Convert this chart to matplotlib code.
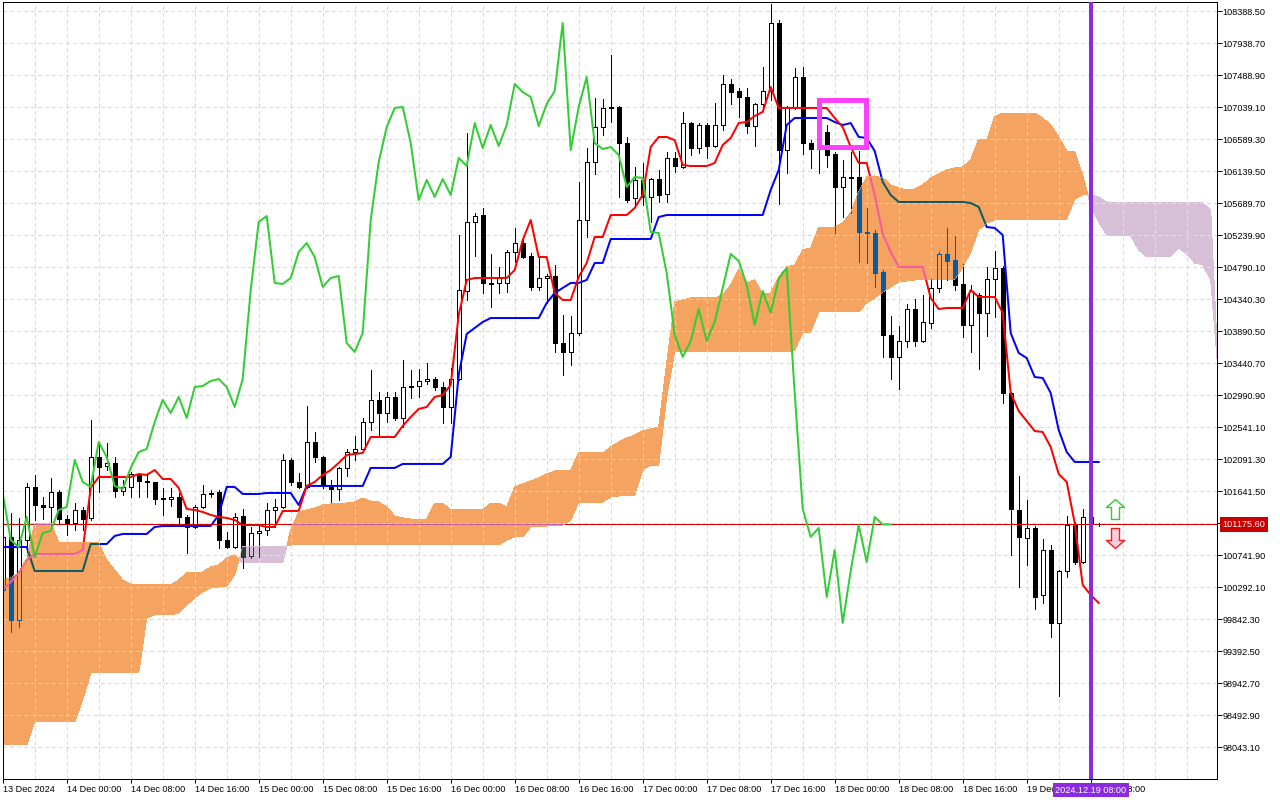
import numpy as np
import matplotlib
matplotlib.use('Agg')
from matplotlib import pyplot as plt
from matplotlib.path import Path
from matplotlib.collections import LineCollection, PolyCollection
from matplotlib.patches import Rectangle
from matplotlib.transforms import blended_transform_factory

plt.rcParams['font.family'] = ['Liberation Sans', 'DejaVu Sans']
plt.rcParams['lines.scale_dashes'] = False

PX = 0.72  # one screen pixel in points at 100 dpi
FS = 6.6

# H1 bars, 13 Dec 2024 16:00 .. 19 Dec 2024 09:00
open_ = [100255, 101000, 99833, 100957, 101703, 101449, 101421, 101632, 101252, 101196,
         101379, 101267, 102124, 101998, 102040, 101646, 101703, 101871, 101787, 101773,
         101533, 101533, 101562, 101281, 101140, 101421, 101604, 101632, 100957, 100859,
         101295, 100733, 101056, 101098, 101379, 101421, 102082, 101773, 101703, 102335,
         102124, 101717, 101674, 101970, 102194, 102236, 102616, 102925, 102742, 102968,
         102672, 103108, 103122, 103192, 103220, 103108, 102827, 103220, 104457, 105427,
         105525, 104570, 104570, 104570, 105005, 105132, 104949, 104514, 104640, 104668,
         103726, 103600, 103867, 105455, 106270, 106762, 107030, 107044, 106537, 105764,
         106017, 105779, 106031, 105821, 106327, 106200, 106818, 106467, 106790, 106495,
         106790, 107367, 107268, 107184, 106776, 107086, 107268, 108224, 106439, 107044,
         107465, 106537, 106509, 106692, 106383, 105919, 106060, 106060, 105286, 105272,
         104724, 103839, 103530, 103754, 104204, 103754, 104007, 104499, 104977, 104893,
         104556, 103979, 104401, 104148, 104626, 104780, 103024, 101379, 100985, 101126,
         100185, 100817, 99791, 100522, 101168, 100648, 101281, 101175.6]
high = [101098, 101337, 101267, 101759, 101871, 101562, 101829, 101660, 101309, 101477,
        101421, 102644, 102321, 102321, 102124, 101801, 101913, 101899, 101899, 101773,
        101689, 101689, 101618, 101309, 101449, 101731, 101660, 101660, 101070, 101337,
        101393, 101140, 101182, 101477, 101533, 102166, 102110, 101899, 102841, 102475,
        102138, 101801, 101984, 102236, 102419, 102672, 103347, 103038, 103038, 103038,
        103487, 103347, 103361, 103445, 103248, 103178, 103375, 105244, 106678, 105553,
        105624, 104977, 104795, 105033, 105343, 105216, 104991, 104935, 104696, 104823,
        104120, 104106, 105989, 106467, 107170, 107156, 107774, 107058, 106622, 106200,
        106256, 106046, 106158, 106411, 106411, 106973, 106832, 106818, 106818, 107100,
        107493, 107436, 107311, 107311, 107100, 107606, 108491, 108266, 107058, 107592,
        107606, 106579, 107001, 106790, 106411, 106298, 106411, 106425, 105624, 105314,
        104752, 104106, 103965, 104275, 104345, 104401, 104626, 105005, 105343, 105230,
        104837, 104542, 104429, 104795, 105019, 104809, 103038, 101857, 101519, 101154,
        100971, 100887, 100536, 101295, 101210, 101393, 101379, 101190]
low = [100114, 99664, 99735, 100747, 101238, 101252, 101168, 101196, 101028, 101098,
       101098, 101238, 101632, 101941, 101562, 101590, 101562, 101562, 101562, 101463,
       101309, 101435, 101182, 100775, 101126, 101407, 101562, 100845, 100845, 100845,
       100564, 100705, 100719, 101028, 101140, 101407, 101731, 101689, 101689, 102054,
       101689, 101477, 101519, 101857, 102082, 102194, 102503, 102433, 102616, 102644,
       102546, 102954, 102968, 103150, 103066, 102602, 102602, 103206, 104331, 104949,
       104429, 104233, 104429, 104443, 104865, 104921, 104471, 104471, 104289, 103600,
       103277, 103417, 103839, 105216, 106102, 106650, 106832, 105779, 105708, 105638,
       105666, 105427, 105708, 105708, 106130, 106186, 106369, 106397, 106327, 106481,
       106720, 107086, 106903, 106678, 106495, 107001, 107142, 105680, 106116, 107015,
       106383, 106186, 106116, 106200, 105272, 105497, 105553, 104865, 104851, 104514,
       103530, 103220, 103080, 103670, 103684, 103740, 103937, 104443, 104612, 104471,
       103811, 103600, 103361, 103825, 104092, 102883, 100747, 100297, 100606, 99987,
       100072, 99594, 98765, 100438, 100620, 100634, 101126, 101160]
close = [101000, 99833, 100957, 101703, 101449, 101421, 101632, 101252, 101182, 101379,
         101252, 102124, 101984, 102040, 101646, 101703, 101885, 101787, 101773, 101533,
         101547, 101562, 101281, 101140, 101421, 101604, 101618, 100957, 100859, 101281,
         100719, 101056, 101084, 101379, 101421, 102082, 101773, 101703, 102335, 102124,
         101717, 101674, 101970, 102194, 102236, 102616, 102925, 102742, 102968, 102672,
         103108, 103122, 103192, 103220, 103108, 102827, 103220, 104471, 105427, 105511,
         104570, 104556, 104640, 105005, 105132, 104935, 104514, 104640, 104668, 103726,
         103600, 103867, 105455, 106270, 106762, 107030, 107044, 106537, 105736, 106017,
         105779, 106031, 105807, 106327, 106214, 106818, 106467, 106790, 106495, 106790,
         107367, 107254, 107184, 106776, 107086, 107268, 108224, 106439, 107044, 107465,
         106537, 106453, 106481, 106369, 105919, 106060, 106046, 105286, 105272, 104710,
         103839, 103530, 103754, 104204, 103754, 104021, 104499, 104977, 104879, 104542,
         103979, 104457, 104148, 104626, 104780, 103024, 101393, 101000, 101126, 100156,
         100817, 99791, 100522, 101168, 100648, 101281, 101175.6, 101175.6]

tenkan = [100255, 100367, 100494, 100676, 100761, 100761, 100761, 100761, 100761, 100761,
          100817, 101689, 101843, 101843, 101843, 101843, 101843, 101885, 101871, 101941,
          101815, 101815, 101689, 101393, 101379, 101351, 101309, 101281, 101267, 101238,
          101168, 101168, 101168, 101140, 101140, 101365, 101365, 101365, 101717, 101773,
          101871, 101941, 102040, 102152, 102166, 102180, 102405, 102405, 102405, 102405,
          102560, 102686, 102799, 102827, 102968, 102995, 103136, 104120, 104612, 104640,
          104640, 104640, 104640, 104640, 104752, 105174, 105455, 104935, 104935, 104429,
          104331, 104331, 104654, 104851, 105216, 105216, 105525, 105525, 105525, 105624,
          105807, 106481, 106622, 106622, 106579, 106228, 106214, 106214, 106214, 106256,
          106509, 106608, 106818, 106832, 106917, 106973, 107324, 107030, 107030, 107030,
          107030, 107030, 107030, 107030, 106889, 106762, 106481, 106256, 106256, 105807,
          105258, 105005, 104795, 104795, 104795, 104795, 104359, 104204, 104218, 104218,
          104218, 104471, 104373, 104373, 104373, 104148, 103024, 102770, 102630, 102489,
          102475, 102264, 101885, 101773, 101196, 100325, 100185, 100072]
kijun = [100859, 100859, 100859, 100859, 100522, 100522, 100522, 100522, 100522, 100522,
         100522, 100901, 100901, 100901, 101014, 101042, 101042, 101042, 101042, 101140,
         101154, 101154, 101154, 101154, 101154, 101154, 101154, 101309, 101703, 101703,
         101604, 101604, 101604, 101618, 101618, 101618, 101618, 101449, 101717, 101717,
         101717, 101717, 101717, 101717, 101717, 101717, 101970, 101970, 101970, 101970,
         102026, 102026, 102026, 102026, 102026, 102026, 102124, 103277, 103853, 103937,
         104021, 104077, 104077, 104077, 104077, 104077, 104077, 104077, 104289, 104429,
         104499, 104570, 104570, 104612, 104851, 104851, 105188, 105188, 105188, 105188,
         105188, 105188, 105497, 105525, 105525, 105525, 105525, 105525, 105525, 105525,
         105525, 105525, 105525, 105525, 105525, 105525, 105877, 106158, 106790, 106889,
         106889, 106889, 106889, 106889, 106832, 106790, 106818, 106622, 106608, 106425,
         105989, 105807, 105708, 105708, 105708, 105708, 105708, 105708, 105708, 105708,
         105708, 105694, 105638, 105356, 105343, 105244, 103867, 103586, 103515, 103248,
         103234, 103024, 102503, 102194, 102054, 102054, 102054, 102054]

# cloud (already shifted 26 bars forward)
senkou_a = [100395, 100423, 100494, 100676, 101196, 101196, 101196, 100929, 100915, 100915,
            100915, 100915, 100915, 100676, 100536, 100395, 100339, 100325, 100325, 100325,
            100325, 100325, 100395, 100494, 100494, 100508, 100578, 100606, 100705, 100747,
            100634, 100634, 100634, 100634, 100634, 100634, 101098, 101351, 101379, 101407,
            101449, 101463, 101477, 101477, 101491, 101547, 101505, 101491, 101421, 101295,
            101267, 101252, 101238, 101252, 101477, 101477, 101379, 101379, 101379, 101379,
            101379, 101477, 101477, 101421, 101703, 101745, 101787, 101829, 101885, 101927,
            101941, 101941, 102180, 102180, 102180, 102180, 102264, 102335, 102391, 102433,
            102489, 102517, 102545, 103445, 104303, 104331, 104359, 104359, 104359, 104359,
            104401, 104542, 104766, 104570, 104612, 104415, 104429, 104654, 104795, 104823,
            105033, 105061, 105356, 105356, 105356, 105413, 105553, 105848, 106060, 106074,
            106046, 105947, 105905, 105877, 105891, 105947, 106046, 106102, 106158, 106186,
            106200, 106298, 106593, 106579, 106903, 106959, 106959, 106959, 106959, 106959,
            106889, 106790, 106622, 106425, 106411, 106088, 105652, 105427, 105244, 105244,
            105244, 105230, 105033, 104935, 104935, 104935, 104949, 105061, 104977, 104851,
            104823, 104612, 103206]
senkou_b = [98076, 98076, 98076, 98076, 98399, 98399, 98399, 98399, 98399, 98399,
            98708, 99088, 99088, 99088, 99088, 99088, 99088, 99088, 99861, 99903,
            99903, 99903, 99931, 100044, 100142, 100227, 100283, 100297, 100311, 100466,
            100859, 100859, 100859, 100859, 100859, 100859, 100887, 100887, 100887, 100887,
            100887, 100887, 100887, 100887, 100887, 100887, 100887, 100887, 100887, 100887,
            100887, 100887, 100887, 100887, 100887, 100887, 100887, 100887, 100887, 100887,
            100887, 100887, 100887, 100957, 101000, 101000, 101140, 101140, 101154, 101154,
            101168, 101238, 101491, 101491, 101491, 101491, 101562, 101576, 101576, 101590,
            101941, 102011, 102011, 102968, 103600, 103600, 103600, 103600, 103600, 103600,
            103600, 103600, 103600, 103600, 103600, 103600, 103600, 103600, 103600, 103628,
            103867, 103881, 104162, 104162, 104162, 104162, 104162, 104162, 104289, 104359,
            104443, 104514, 104584, 104598, 104612, 104612, 104612, 104612, 104612, 104626,
            104795, 105005, 105314, 105413, 105455, 105455, 105455, 105455, 105455, 105455,
            105455, 105469, 105469, 105469, 105750, 105807, 105807, 105778, 105708, 105708,
            105708, 105708, 105708, 105708, 105708, 105708, 105708, 105708, 105708, 105708,
            105694, 105595, 103206]

current_price = 101175.6
price_levels = [108388.5, 107938.7, 107488.9, 107039.1, 106589.3, 106139.5, 105689.7, 105239.9,
                104790.1, 104340.3, 103890.5, 103440.7, 102990.9, 102541.1, 102091.3, 101641.5,
                101191.7, 100741.9, 100292.1, 99842.3, 99392.5, 98942.7, 98492.9, 98043.1]
time_bars = [0, 8, 16, 24, 32, 40, 48, 56, 64, 72, 80, 88, 96, 104, 112, 120, 128, 136]
time_labels = ['13 Dec 2024', '14 Dec 00:00', '14 Dec 08:00', '14 Dec 16:00', '15 Dec 00:00',
               '15 Dec 08:00', '15 Dec 16:00', '16 Dec 00:00', '16 Dec 08:00', '16 Dec 16:00',
               '17 Dec 00:00', '17 Dec 08:00', '17 Dec 16:00', '18 Dec 00:00', '18 Dec 08:00',
               '18 Dec 16:00', '19 Dec 00:00', '19 Dec 08:00']
vline_bar = 136
vline_label = '2024.12.19 08:00'
box_left, box_right, box_top, box_bottom = 102.05, 107.9, 107145, 106475
buy_arrow = (139, 101393)
sell_arrow = (139, 100985)

X_MAX = 151.75
Y_MIN, Y_MAX = 97597.7, 108515.0

fig = plt.figure(figsize=(12.8, 8), dpi=100)
ax = fig.add_axes([2.7 / 1280, 21 / 800, 1214 / 1280, 776.7 / 800])
ax.set_xlim(0, X_MAX)
ax.set_ylim(Y_MIN, Y_MAX)

n = len(close)
x = np.arange(n)
a = np.array(senkou_a)
b = np.array(senkou_b)
xc = np.arange(len(a))


def add_grid(color, z, clip=None):
    h = ax.hlines(price_levels, 0, X_MAX, colors=color, linestyles=(0, (2.2, 2.2)),
                  linewidth=PX, zorder=z, antialiased=False)
    v = ax.vlines(np.arange(4, 152, 4), Y_MIN, Y_MAX, colors=color, linestyles=(0, (2.2, 2.2)),
                  linewidth=PX, zorder=z, antialiased=False)
    if clip is not None:
        for art in (h, v):
            art.set_clip_path(clip, ax.transData)


def add_candles(face_up, face_dn, edge, z, clip=None):
    segs = [[(i, low[i]), (i, high[i])] for i in range(n)]
    verts, faces = [], []
    for i in range(n):
        lo, hi = sorted((open_[i], close[i]))
        verts.append([(i - 0.25, lo), (i + 0.25, lo), (i + 0.25, hi), (i - 0.25, hi)])
        faces.append(face_up if close[i] > open_[i] else face_dn)
    wicks = LineCollection(segs, colors=edge, linewidths=PX, zorder=z, antialiaseds=False)
    bodies = PolyCollection(verts, facecolors=faces, edgecolors=edge, linewidths=PX,
                            zorder=z, antialiaseds=False)
    for art in (wicks, bodies):
        ax.add_collection(art)
        if clip is not None:
            art.set_clip_path(clip, ax.transData)


def add_lines(c_tenkan, c_kijun, c_price, z, clip=None):
    arts = ax.plot(x, kijun, color=c_kijun, lw=2 * PX, zorder=z)
    arts += ax.plot(x, tenkan, color=c_tenkan, lw=2 * PX, zorder=z)
    arts.append(ax.axhline(current_price, color=c_price, lw=PX, zorder=z))
    if clip is not None:
        for art in arts:
            art.set_clip_path(clip, ax.transData)


# normal layer
add_grid('#d9d9d9', 0.5)
add_candles('white', 'black', 'black', 2)
add_lines('#ff0000', '#0000ff', '#d40000', 2.5)

# kumo, painted like MT5 does (colours underneath get inverted)
orange = ax.fill_between(xc, a, b, where=a >= b, interpolate=True, facecolor='#F4A460',
                         edgecolor='none', lw=0, zorder=3, antialiased=False)
lilac = ax.fill_between(xc, a, b, where=b > a, interpolate=True, facecolor='#D8BFD8',
                        edgecolor='none', lw=0, zorder=3, antialiased=False)
clip_o = Path.make_compound_path(*orange.get_paths())
clip_l = Path.make_compound_path(*lilac.get_paths())

add_grid('#f8caa0', 3.1, clip_o)
add_grid('#e8dae8', 3.1, clip_l)
add_candles('#F4A460', '#0B5B9F', '#0B5B9F', 3.2, clip_o)
add_candles('#D8BFD8', '#274027', '#274027', 3.2, clip_l)
add_lines('#F45B9F', '#0B5B60', '#C75B9F', 3.3, clip_o)
add_lines('#D84027', '#2740D8', '#EB4027', 3.3, clip_l)

# chikou span: close moved 26 bars back
ax.plot(np.arange(n - 26), close[26:], color='#32CD32', lw=2 * PX, zorder=4)

# objects
ax.axvline(vline_bar, color='#8A2BE2', lw=4 * PX, zorder=7)
ax.add_patch(Rectangle((box_left, box_bottom), box_right - box_left, box_top - box_bottom,
                       fill=False, ec='#FF40FF', lw=5 * PX, zorder=7, joinstyle='miter'))

up = [(-0.2, -0.5), (0.2, -0.5), (0.2, 0.1), (0.45, 0.1), (0, 0.5), (-0.45, 0.1), (-0.2, 0.1), (-0.2, -0.5)]
up_path = Path(up, closed=True)
dn_path = Path([(px_, -py) for px_, py in up], closed=True)
ax.plot([buy_arrow[0]], [buy_arrow[1]], marker=up_path, markersize=20 * PX, mfc='white',
        mec='#33cc33', mew=1.4 * PX, ls='none', zorder=8, clip_on=False)
ax.plot([sell_arrow[0]], [sell_arrow[1]], marker=dn_path, markersize=20 * PX, mfc='#ffd0dc',
        mec='#ff1a1a', mew=1.4 * PX, ls='none', zorder=8, clip_on=False)

# axes look
for sp in ax.spines.values():
    sp.set_linewidth(PX)
    sp.set_color('black')
    sp.set_zorder(6)

ax.yaxis.tick_right()
ax.set_yticks(price_levels)
ax.set_yticklabels(['' if abs(p - 101191.7) < 1 else f'{p:.2f}' for p in price_levels])
ax.set_xticks(time_bars)
ax.set_xticklabels(time_labels)
for lbl in ax.get_xticklabels():
    lbl.set_horizontalalignment('left')
ax.tick_params(axis='y', direction='out', length=5 * PX, width=PX, pad=1 * PX, labelsize=FS)
ax.tick_params(axis='x', direction='out', length=4 * PX, width=PX, pad=1.5 * PX, labelsize=FS)

tr_price = blended_transform_factory(ax.transAxes, ax.transData)
ax.text(1.0046, current_price, f'{current_price:.2f}', transform=tr_price, ha='left', va='center',
        color='white', fontsize=FS, clip_on=False, zorder=10,
        bbox=dict(boxstyle='square,pad=0.3', fc='#c80000', ec='none'))

tr_time = blended_transform_factory(ax.transData, ax.transAxes)
ax.text(vline_bar, -0.0142, vline_label, transform=tr_time, ha='center', va='center',
        color='white', fontsize=FS, clip_on=False, zorder=10,
        bbox=dict(boxstyle='square,pad=0.25', fc='#8A2BE2', ec='none'))

fig.savefig('out.png', dpi=100)
